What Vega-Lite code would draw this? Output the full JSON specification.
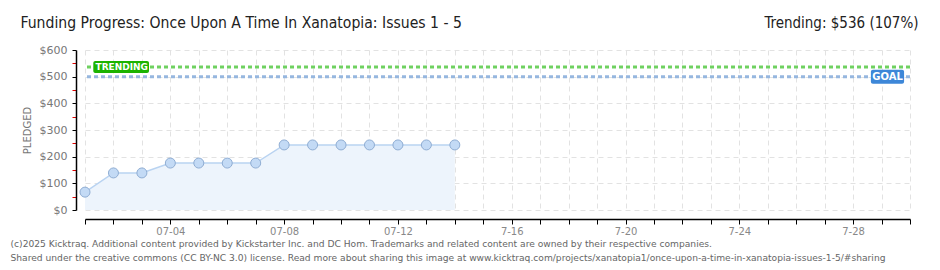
{
  "$schema": "https://vega.github.io/schema/vega-lite/v6.json",
  "width": 825,
  "height": 160,
  "autosize": {"type": "none"},
  "padding": {"left": 85, "top": 50, "right": 30, "bottom": 60},
  "background": "white",
  "config": {"view": {"stroke": null}, "font": "DejaVu Sans"},
  "datasets": {
    "pledges": [
      {"date": "2025-07-01T00:00:00", "amount": 67},
      {"date": "2025-07-02T00:00:00", "amount": 139},
      {"date": "2025-07-03T00:00:00", "amount": 139},
      {"date": "2025-07-04T00:00:00", "amount": 176},
      {"date": "2025-07-05T00:00:00", "amount": 176},
      {"date": "2025-07-06T00:00:00", "amount": 176},
      {"date": "2025-07-07T00:00:00", "amount": 176},
      {"date": "2025-07-08T00:00:00", "amount": 244},
      {"date": "2025-07-09T00:00:00", "amount": 244},
      {"date": "2025-07-10T00:00:00", "amount": 244},
      {"date": "2025-07-11T00:00:00", "amount": 244},
      {"date": "2025-07-12T00:00:00", "amount": 244},
      {"date": "2025-07-13T00:00:00", "amount": 244},
      {"date": "2025-07-14T00:00:00", "amount": 244}
    ],
    "lines": [
      {"name": "TRENDING", "amount": 536},
      {"name": "GOAL", "amount": 500}
    ]
  },
  "layer": [
    {
      "data": {"name": "pledges"},
      "mark": {"type": "area", "color": "#edf4fc", "opacity": 1},
      "encoding": {
        "x": {
          "field": "date",
          "type": "temporal",
          "scale": {"domain": [{"year": 2025, "month": 7, "date": 1}, {"year": 2025, "month": 7, "date": 30}]},
          "axis": {
            "orient": "bottom",
            "offset": 9,
            "tickCount": {"interval": "day", "step": 1},
            "labelExpr": "date(datum.value) % 4 == 0 ? (date(datum.value) <= 12 ? timeFormat(datum.value, '%m-%d') : '7-' + timeFormat(datum.value, '%d')) : ''",
            "labelOverlap": false,
            "labelColor": "#888",
            "labelFontSize": 10,
            "labelPadding": 2,
            "tickColor": "#000",
            "tickSize": 5,
            "domainColor": "#000",
            "domainWidth": 1.5,
            "grid": true,
            "gridDash": [5, 4],
            "gridColor": "#e2e2e2",
            "title": [
              "(c)2025 Kicktraq. Additional content provided by Kickstarter Inc. and DC Hom. Trademarks and related content are owned by their respective companies.",
              "Shared under the creative commons (CC BY-NC 3.0) license. Read more about sharing this image at www.kicktraq.com/projects/xanatopia1/once-upon-a-time-in-xanatopia-issues-1-5/#sharing"
            ],
            "titleAnchor": "start",
            "titleAlign": "left",
            "titleX": -75,
            "titleY": 27,
            "titleFontSize": 9.15,
            "titleFontWeight": "normal",
            "titleColor": "#666",
            "titleLineHeight": 14,
            "titleBaseline": "alphabetic"
          }
        },
        "y": {
          "field": "amount",
          "type": "quantitative",
          "scale": {"domain": [0, 600]},
          "axis": {
            "orient": "left",
            "offset": 9,
            "values": [0, 50, 100, 150, 200, 250, 300, 350, 400, 450, 500, 550, 600],
            "labelExpr": "datum.value % 100 == 0 ? '$' + datum.value : ''",
            "tickColor": {"condition": {"test": "datum.value % 100 != 0", "value": "#e00000"}, "value": "#000"},
            "gridColor": {"condition": {"test": "datum.value % 100 != 0", "value": "transparent"}, "value": "#e2e2e2"},
            "gridDash": [5, 4],
            "tickSize": 4,
            "domainColor": "#000",
            "domainWidth": 1.5,
            "labelColor": "#777",
            "labelFontSize": 11,
            "labelPadding": 5,
            "title": "PLEDGED",
            "titleFontSize": 10,
            "titleColor": "#777",
            "titleFontWeight": "normal",
            "titleX": -44
          }
        }
      }
    },
    {
      "data": {"name": "pledges"},
      "mark": {"type": "line", "color": "#b9d3f1", "strokeWidth": 1.5},
      "encoding": {
        "x": {
          "field": "date",
          "type": "temporal",
          "axis": {
            "orient": "top",
            "labels": false,
            "ticks": false,
            "domain": false,
            "grid": false,
            "title": "Funding Progress: Once Upon A Time In Xanatopia: Issues 1 - 5",
            "titleAnchor": "start",
            "titleAlign": "left",
            "titleX": -65,
            "titleY": -23,
            "titleBaseline": "alphabetic",
            "titleFont": "DejaVu Sans Condensed",
            "titleFontSize": 15.6,
            "titleFontWeight": "normal",
            "titleColor": "#222"
          }
        },
        "y": {"field": "amount", "type": "quantitative", "axis": null}
      }
    },
    {
      "data": {"name": "pledges"},
      "mark": {"type": "point", "filled": true, "fill": "#c3daf5", "stroke": "#8fadd3", "strokeWidth": 1, "size": 100, "opacity": 1},
      "encoding": {
        "x": {"field": "date", "type": "temporal", "axis": null},
        "y": {
          "field": "amount",
          "type": "quantitative",
          "axis": {
            "orient": "right",
            "labels": false,
            "ticks": false,
            "domain": false,
            "grid": false,
            "title": "Trending: $536 (107%)",
            "titleAngle": 0,
            "titleAlign": "right",
            "titleX": 8,
            "titleY": -23,
            "titleBaseline": "alphabetic",
            "titleFont": "DejaVu Sans Condensed",
            "titleFontSize": 15,
            "titleFontWeight": "normal",
            "titleColor": "#222"
          }
        }
      }
    },
    {
      "data": {"name": "lines"},
      "mark": {"type": "rule", "strokeWidth": 3, "strokeDash": [4, 3]},
      "encoding": {
        "y": {"field": "amount", "type": "quantitative", "axis": null},
        "color": {"field": "name", "type": "nominal", "scale": {"domain": ["TRENDING", "GOAL"], "range": ["#6fd160", "#96b7df"]}, "legend": null}
      }
    },
    {
      "data": {"values": [{}]},
      "mark": {"type": "rect", "color": "#1cb300", "cornerRadius": 2, "yOffset": -6, "y2Offset": 6},
      "encoding": {
        "x": {"datum": {"year": 2025, "month": 7, "date": 1, "hours": 7}, "type": "temporal", "axis": null},
        "x2": {"datum": {"year": 2025, "month": 7, "date": 3, "hours": 6}},
        "y": {"datum": 536, "type": "quantitative", "axis": null},
        "y2": {"datum": 536}
      }
    },
    {
      "data": {"values": [{}]},
      "mark": {"type": "rect", "color": "#3d87d8", "cornerRadius": 2, "yOffset": -7, "y2Offset": 7},
      "encoding": {
        "x": {"datum": {"year": 2025, "month": 7, "date": 28, "hours": 15}, "type": "temporal", "axis": null},
        "x2": {"datum": {"year": 2025, "month": 7, "date": 29, "hours": 19}},
        "y": {"datum": 500, "type": "quantitative", "axis": null},
        "y2": {"datum": 500}
      }
    },
    {
      "data": {"values": [{}]},
      "mark": {"type": "text", "text": "TRENDING", "color": "white", "fontSize": 9, "fontWeight": "bold", "baseline": "middle", "align": "center"},
      "encoding": {
        "x": {"datum": {"year": 2025, "month": 7, "date": 2, "hours": 7}, "type": "temporal", "axis": null},
        "y": {"datum": 536, "type": "quantitative", "axis": null}
      }
    },
    {
      "data": {"values": [{}]},
      "mark": {"type": "text", "text": "GOAL", "color": "white", "fontSize": 10, "fontWeight": "bold", "baseline": "middle", "align": "center"},
      "encoding": {
        "x": {"datum": {"year": 2025, "month": 7, "date": 29, "hours": 5}, "type": "temporal", "axis": null},
        "y": {"datum": 500, "type": "quantitative", "axis": null}
      }
    }
  ],
  "resolve": {"axis": {"x": "independent", "y": "independent"}}
}
